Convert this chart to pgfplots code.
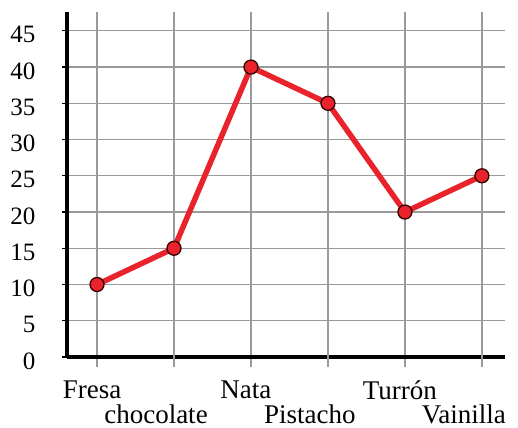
\documentclass[border=0pt]{standalone}
\usepackage{pgfplots}
\pgfplotsset{compat=1.18}
\usepackage{fontspec}
\setmainfont{Liberation Serif}
\definecolor{lred}{HTML}{E8232B}
\definecolor{gridg}{HTML}{9A9A9A}
\begin{document}
\begin{tikzpicture}
\begin{axis}[
  name=ax,
  scale only axis,
  width=438pt, height=345pt,
  xmin=-0.39, xmax=5.3,
  ymin=0, ymax=47.6,
  axis x line=bottom, axis y line=left,
  axis line style={-, line width=3.5pt, black},
  xtick={0,2,4},
  xticklabels={Fresa,Nata,Turrón},
  extra x ticks={1,3,5},
  extra x tick labels={chocolate,Pistacho,Vainilla},
  extra x tick style={grid=major, xticklabel style={yshift=-24pt, xshift=-13pt}},
  xticklabel style={font=\fontsize{27}{27}\selectfont, yshift=-10pt, xshift=-5pt},
  ytick={0,5,...,45},
  yticklabel style={font=\fontsize{25}{25}\selectfont, xshift=-18pt, yshift=-4pt},
  /pgf/number format/assume math mode=true,
  grid=major,
  major grid style={gridg, line width=1.3pt},
  tick align=outside,
  major tick length=10pt,
  xtick style={gridg, line width=1.3pt},
  ytick style={black, line width=1.3pt, /pgfplots/major tick length=5pt},
  clip=false,
]
\addplot[lred, line width=5.5pt, mark=*, mark size=7pt,
  mark options={fill=lred, draw=black!80!red, line width=1.3pt}]
  coordinates {(0,10) (1,15) (2,40) (3,35) (4,20) (5,25)};
\end{axis}
\pgfresetboundingbox
\path ([xshift=-67pt,yshift=-71pt]ax.south west) rectangle ([xshift=13pt,yshift=12pt]ax.north east);
\end{tikzpicture}
\end{document}
